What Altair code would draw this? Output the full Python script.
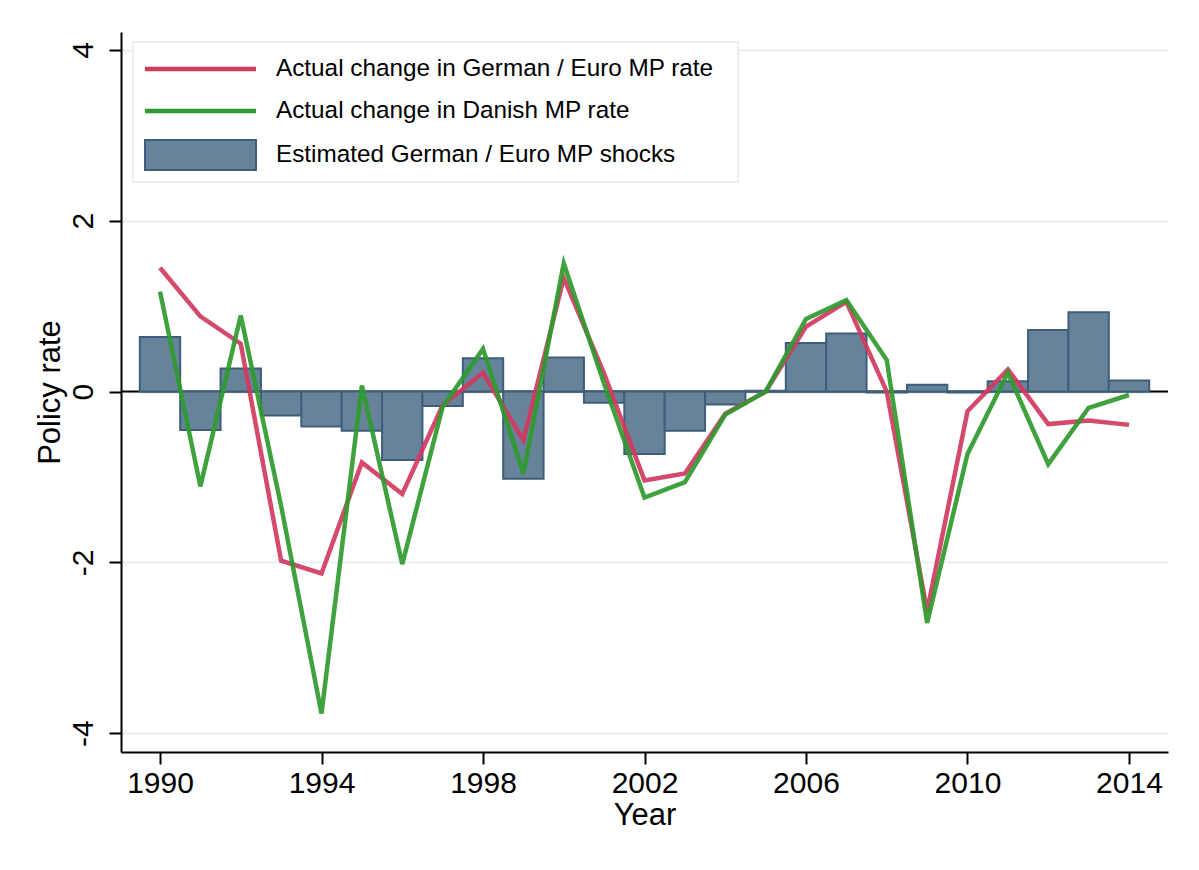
import altair as alt
import pandas as pd

years = list(range(1990, 2015))
german = [1.45, 0.88, 0.56, -1.98, -2.13, -0.83, -1.20, -0.16, 0.22, -0.57,
          1.33, 0.21, -1.04, -0.96, -0.26, 0.00, 0.76, 1.05, 0.00, -2.57,
          -0.23, 0.26, -0.38, -0.34, -0.39]
danish = [1.17, -1.11, 0.89, -1.34, -3.77, 0.07, -2.02, -0.18, 0.50, -0.96,
          1.50, 0.09, -1.24, -1.06, -0.27, 0.00, 0.85, 1.07, 0.37, -2.71,
          -0.73, 0.22, -0.85, -0.19, -0.04]
shocks = [0.64, -0.45, 0.27, -0.28, -0.41, -0.46, -0.80, -0.17, 0.39, -1.02,
          0.40, -0.13, -0.73, -0.46, -0.15, 0.01, 0.57, 0.68, -0.01, 0.08,
          -0.01, 0.12, 0.72, 0.93, 0.13]
legend_labels = ["Actual change in German / Euro MP rate",
                 "Actual change in Danish MP rate",
                 "Estimated German / Euro MP shocks"]
x_ticks = [1990, 1994, 1998, 2002, 2006, 2010, 2014]
y_ticks = [-4, -2, 0, 2, 4]

RED = "#d1395f"
GREEN = "#2f9a2f"
BAR_FILL = "#66839a"
BAR_STROKE = "#3e5e7b"
GRID = "#e8f0f2"
FONT = "Liberation Sans"

df = pd.DataFrame({"year": years, "german": german, "danish": danish, "shock": shocks})

W, H = 1047, 720
xscale = alt.Scale(domain=[1989.034, 2014.966], nice=False, zero=False)
yscale = alt.Scale(domain=[-4.22, 4.21], nice=False, zero=False)

xaxis = alt.Axis(values=x_ticks, format="d", title="Year", grid=False,
                 labelFontSize=30, labelPadding=4, labelBaseline="top",
                 titleFontSize=31, titleFontWeight="normal",
                 titleX=W / 2, titleY=63, titleBaseline="middle", titleAlign="center")
yaxis = alt.Axis(values=y_ticks, title="Policy rate", grid=True, gridColor=GRID, gridWidth=2,
                 labelExpr="datum.value < 0 ? '-' + abs(datum.value) : '' + datum.value",
                 labelFontSize=30, labelAngle=270, labelAlign="center",
                 labelBaseline="alphabetic", labelPadding=17,
                 titleFontSize=31, titleFontWeight="normal", titleAngle=270,
                 titleX=-71, titleY=H / 2, titleAlign="center", titleBaseline="middle")

base = alt.Chart(df)

# zero line
zero = alt.Chart(pd.DataFrame({"z": [0]})).mark_rule(color="black", strokeWidth=2).encode(
    y=alt.Y("z:Q", scale=yscale, axis=yaxis))

bars = base.transform_calculate(x0="datum.year - 0.5", x1="datum.year + 0.5").mark_rect(
    fill=BAR_FILL, stroke=BAR_STROKE, strokeWidth=2).encode(
    x=alt.X("x0:Q", scale=xscale, axis=xaxis),
    x2="x1:Q",
    y=alt.Y("shock:Q", scale=yscale),
    y2=alt.datum(0),
)

red = base.mark_line(color=RED, strokeWidth=4.5, opacity=0.92).encode(
    x=alt.X("year:Q", scale=xscale), y=alt.Y("german:Q", scale=yscale))
green = base.mark_line(color=GREEN, strokeWidth=4.5, opacity=0.92).encode(
    x=alt.X("year:Q", scale=xscale), y=alt.Y("danish:Q", scale=yscale))

one = pd.DataFrame({"a": [0]})
lg_box = alt.Chart(one).mark_rect(fill="white", stroke=GRID, strokeWidth=2).encode(
    x=alt.value(12), x2=alt.value(617), y=alt.value(10), y2=alt.value(150))
lg_red = alt.Chart(one).mark_rule(color=RED, strokeWidth=4.5).encode(
    x=alt.value(24), x2=alt.value(135), y=alt.value(37))
lg_green = alt.Chart(one).mark_rule(color=GREEN, strokeWidth=4.5).encode(
    x=alt.value(24), x2=alt.value(135), y=alt.value(79))
lg_bar = alt.Chart(one).mark_rect(fill=BAR_FILL, stroke=BAR_STROKE, strokeWidth=2).encode(
    x=alt.value(24), x2=alt.value(135), y=alt.value(108), y2=alt.value(138))
lg_text = []
for lab, yy in zip(legend_labels, [37, 79, 123]):
    lg_text.append(alt.Chart(one).mark_text(align="left", baseline="middle", fontSize=24.3,
                                            font=FONT, color="black", text=lab).encode(
        x=alt.value(155), y=alt.value(yy)))

chart = alt.layer(zero, bars, red, green, lg_box, lg_red, lg_green, lg_bar, *lg_text).properties(
    width=W, height=H,
    autosize=alt.AutoSizeParams(type="none"),
    padding={"left": 113, "top": 24, "right": 23, "bottom": 100},
    background="white",
).configure_view(stroke=None).configure_axis(
    domainColor="black", domainWidth=2, tickColor="black", tickWidth=2, tickSize=12,
    labelFont=FONT, titleFont=FONT, labelColor="black", titleColor="black",
)

chart.save("out.html", embed_options={"renderer": "svg", "actions": False})
